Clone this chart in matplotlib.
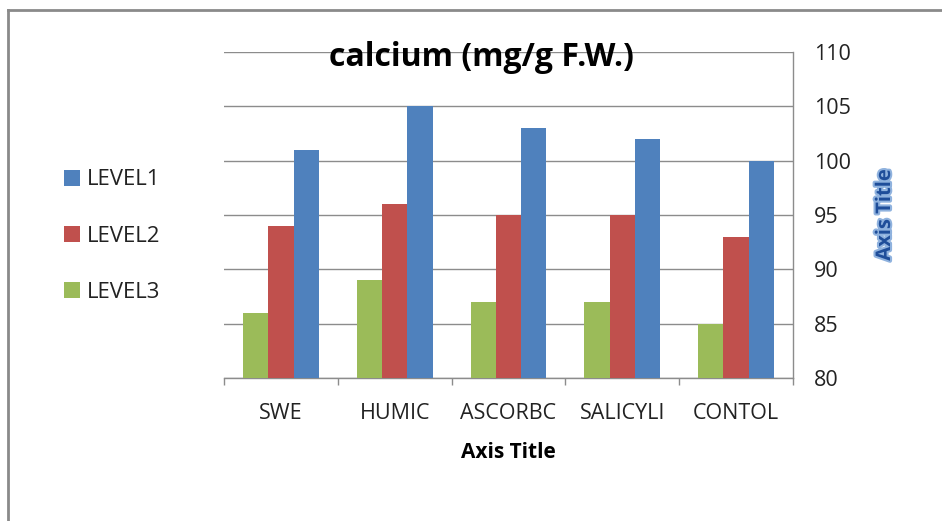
import matplotlib
matplotlib.use("Agg")
import matplotlib.pyplot as plt
from matplotlib.patches import Patch
from matplotlib.lines import Line2D
import matplotlib.patheffects as pe
import numpy as np

categories = ["SWE", "HUMIC", "ASCORBC", "SALICYLI", "CONTOL"]
level1 = [101, 105, 103, 102, 100]
level2 = [94, 96, 95, 95, 93]
level3 = [86, 89, 87, 87, 85]
series_names = ["LEVEL1", "LEVEL2", "LEVEL3"]
colors = {"LEVEL1": "#4F81BD", "LEVEL2": "#C0504D", "LEVEL3": "#9BBB59"}
yticks = [80, 85, 90, 95, 100, 105, 110]

plt.rcParams['font.family'] = ['Open Sans', 'DejaVu Sans']

fig = plt.figure(figsize=(9.42, 5.21), dpi=100)
ax = fig.add_axes([224/942, 1-378/521, (793-224)/942, (378-52)/521])

x = np.arange(len(categories))
w = 0.222
data_order = [("LEVEL3", level3), ("LEVEL2", level2), ("LEVEL1", level1)]
for i, (name, vals) in enumerate(data_order):
    ax.bar(x + (i-1)*w, np.array(vals) - 80, bottom=80, width=w,
           color=colors[name], edgecolor='none', zorder=3)

ax.set_xlim(-0.5, len(categories)-0.5)
ax.set_ylim(80, 110)
ax.yaxis.tick_right()
ax.set_yticks(yticks)
ax.set_yticklabels([str(v) for v in yticks], fontsize=15.5, color='#222222')
ax.tick_params(axis='y', length=0, pad=15)
for y in yticks:
    ax.axhline(y, color='#8c8c8c', lw=1.0, zorder=1)
ax.set_xticks(x)
ax.set_xticklabels(categories, fontsize=15.5, color='#222222')
ax.set_xticks(np.arange(-0.5, len(categories)), minor=True)
ax.tick_params(axis='x', which='major', length=0, pad=18)
ax.tick_params(axis='x', which='minor', length=5, color='#8c8c8c', width=1)

for s in ['top', 'left']:
    ax.spines[s].set_visible(False)
for s in ['bottom', 'right']:
    ax.spines[s].set_color('#8c8c8c')
    ax.spines[s].set_linewidth(1.0)

ax.set_xlabel("Axis Title", fontsize=15, fontweight='bold', labelpad=13)

fig.text(481/942, 1-57/521, "calcium (mg/g F.W.)", fontsize=23, fontweight='bold',
         ha='center', va='center')

yt = fig.text(885/942, 1-215/521, "Axis Title", fontsize=14.5, fontweight='bold',
              rotation=90, ha='center', va='center', color='#1F4E9A')
yt.set_path_effects([pe.withStroke(linewidth=3, foreground='#8fb2de')])

handles = [Patch(facecolor=colors[n], edgecolor='none') for n in series_names]
leg = fig.legend(handles, series_names, loc='center left',
                 bbox_to_anchor=(64/942, 1-236/521), frameon=False, fontsize=16,
                 handlelength=0.72, handleheight=0.72, handletextpad=0.3,
                 labelspacing=1.58, borderaxespad=0, borderpad=0,
                 labelcolor='#222222')

fig.add_artist(Line2D([8/942, 8/942], [0, 1-10/521], transform=fig.transFigure,
                      color='#8a8a8a', lw=2))
fig.add_artist(Line2D([8/942, 1], [1-10/521, 1-10/521], transform=fig.transFigure,
                      color='#8a8a8a', lw=2))

fig.savefig("out.png", dpi=100)
